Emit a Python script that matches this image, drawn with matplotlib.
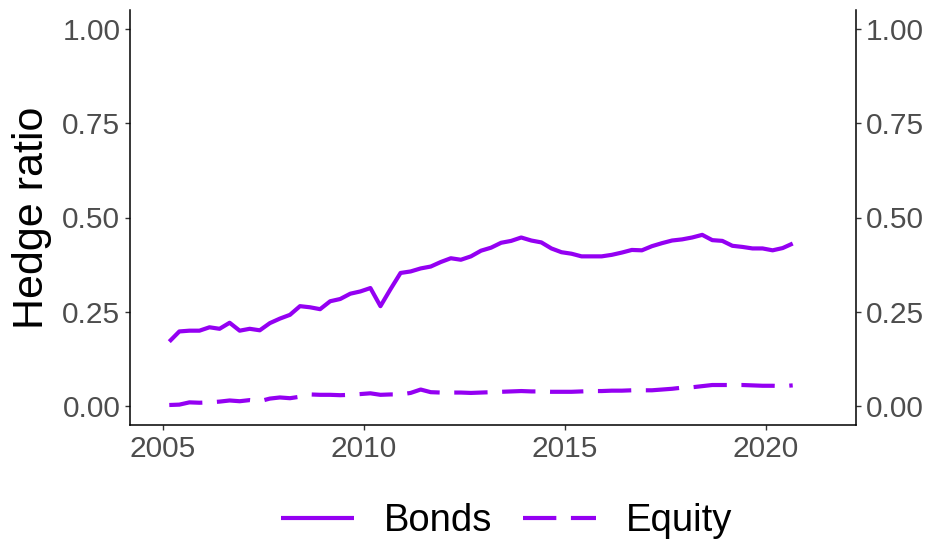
import matplotlib
matplotlib.use("Agg")
import matplotlib.pyplot as plt
import numpy as np

# quarterly observations, 2005 Q1 .. 2020 Q3
years = np.repeat(np.arange(2005, 2021), 4)[:63]
months = np.tile([3, 6, 9, 12], 16)[:63]

bonds = [0.171, 0.198, 0.200, 0.200, 0.209, 0.205, 0.221, 0.200, 0.205, 0.201,
         0.220, 0.232, 0.242, 0.265, 0.262, 0.257, 0.278, 0.284, 0.298, 0.304,
         0.313, 0.265, 0.310, 0.353, 0.357, 0.365, 0.370, 0.382, 0.392, 0.388,
         0.397, 0.412, 0.420, 0.433, 0.438, 0.447, 0.439, 0.434, 0.418, 0.408,
         0.404, 0.397, 0.397, 0.397, 0.401, 0.407, 0.414, 0.413, 0.424, 0.432,
         0.439, 0.442, 0.447, 0.454, 0.440, 0.438, 0.425, 0.422, 0.418, 0.418,
         0.413, 0.419, 0.431]

equity = [0.003, 0.004, 0.010, 0.009, 0.010, 0.012, 0.015, 0.013, 0.016, 0.013,
          0.020, 0.023, 0.021, 0.025, 0.031, 0.030, 0.030, 0.029, 0.030, 0.032,
          0.034, 0.030, 0.031, 0.031, 0.035, 0.044, 0.037, 0.036, 0.036, 0.036,
          0.035, 0.036, 0.037, 0.038, 0.039, 0.040, 0.039, 0.039, 0.038, 0.038,
          0.038, 0.039, 0.040, 0.040, 0.041, 0.041, 0.042, 0.042, 0.042, 0.044,
          0.046, 0.049, 0.050, 0.053, 0.056, 0.056, 0.056, 0.056, 0.055, 0.054,
          0.054, 0.053, 0.055]

x = years + (months - 1) / 12.0

purple = "#9400F2"
grey = "#4D4D4D"
plt.rcParams["font.family"] = ["Liberation Sans", "DejaVu Sans"]

fig = plt.figure(figsize=(9.3, 5.44), dpi=100)
ax = fig.add_axes([130 / 930, 1 - 425 / 544, 726 / 930, 415 / 544])

ax.plot(x, bonds, color=purple, lw=3.0, label="Bonds", solid_capstyle="butt")
ax.plot(x, equity, color=purple, lw=3.0, linestyle=(0, (8, 3.5)), label="Equity",
        dash_capstyle="butt")

ax.set_xlim(2004.19, 2022.24)
ax.set_ylim(-0.05, 1.05)
ax.set_xticks([2005, 2010, 2015, 2020])
ax.set_yticks([0, 0.25, 0.5, 0.75, 1.0])
ax.set_yticklabels(["0.00", "0.25", "0.50", "0.75", "1.00"])

ax.spines["top"].set_visible(False)
for s in ["left", "right", "bottom"]:
    ax.spines[s].set_linewidth(1.1)
    ax.spines[s].set_color("black")

ax.tick_params(axis="both", labelsize=21.5, labelcolor=grey, length=3.5, width=1.0,
               color="#333333")
ax.tick_params(axis="y", right=True, labelright=True, pad=3.5)
ax.tick_params(axis="x", pad=4)

ax.set_ylabel("Hedge ratio", fontsize=31)
ax.yaxis.set_label_coords(-0.108, 0.5)

fig.legend(loc="center", bbox_to_anchor=(0.545, 0.042), ncol=2, frameon=False,
           fontsize=27.5, handlelength=1.9, handletextpad=0.8, columnspacing=0.8)

fig.savefig("out.png", dpi=100)
